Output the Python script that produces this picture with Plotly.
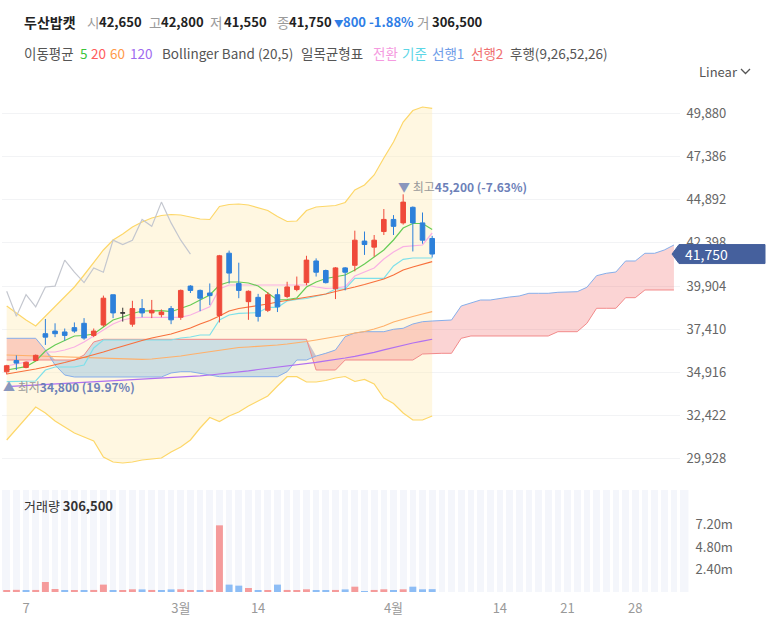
import plotly.graph_objects as go

W, H = 773, 623
FONT = "Noto Sans CJK KR"

# ---------------- data ----------------
opens  = [34950,35600,35200,35600,37150,37300,37250,37500,37750,37050,
          37650,39400,38350,37700,38600,38350,38250,38600,38100,39900,
          39650,39500,38200,41800,40050,39000,39250,38500,39400,39300,
          39700,40100,41350,40800,39750,40950,41100,42500,42150,43050,
          43750,43550,44450,43550,42650]
highs  = [35350,35900,35550,35950,38000,37750,37450,37800,38050,37450,
          39350,39400,38650,39050,39150,39100,38550,38750,39700,39950,
          39700,40050,41700,41950,41250,39650,39450,39550,39750,40150,
          40450,41650,41500,40850,41000,41000,43100,43050,42850,44350,
          44000,45200,44500,44150,42800]
lows   = [34800,35050,35150,35550,36500,36950,36750,37200,36800,36950,
          37550,38050,37850,37550,38100,38050,38100,37700,37950,39500,
          38450,38800,37800,40050,39200,37950,37850,38400,38400,39200,
          39600,39950,40450,40050,39150,39650,40750,41700,41600,42850,
          42850,43450,41900,42350,41550]
closes = [35300,35450,35500,35900,36950,37150,37050,37300,36900,37300,
          39200,38350,38350,38600,38350,38500,38400,37950,39650,39650,
          39200,39350,41650,40650,39650,39600,38150,39400,38700,39850,
          39900,41400,40700,40100,40950,40700,42550,42300,42550,43750,
          43350,44750,43550,42550,41750]
volumes = [210000,230000,200000,220000,1070000,320000,200000,210000,200000,220000,
           790000,200000,210000,290000,280000,220000,200000,280000,290000,210000,
           200000,220000,7140000,790000,680000,430000,200000,210000,790000,220000,
           210000,290000,200000,210000,220000,280000,570000,100000,220000,290000,
           210000,290000,570000,290000,306500]
vol_dir = ["u","u","d","u","u","u","d","u","d","u","u","d","u","u","d","u","d","d","u","u",
           "d","u","u","d","d","u","d","u","d","u","u","u","d","d","u","d","u","d","u","u",
           "d","u","d","d","d"]

ma5   = [35053,35139,35244,35575,36152,36497,36757,37017,37046,37132,
         37536,37941,38114,38316,38460,38489,38478,38420,38605,38808,
         39096,39385,39962,40135,40135,40077,39904,39500,39096,39125,
         39211,39847,40135,40338,40424,40540,40829,41176,41580,41984,
         42562,43255,43515,43515,43169]
ma20  = [34822,34908,34995,35111,35226,35342,35486,35630,35775,35919,
         36092,36266,36439,36612,36757,36901,37017,37132,37305,37479,
         37710,37912,38172,38461,38605,38692,38749,38865,38980,39067,
         39154,39269,39356,39443,39587,39703,39847,39991,40136,40309,
         40540,40829,41002,41175,41308]
ma60  = [35919,35902,35879,35861,35844,35821,35803,35786,35775,35775,
         35746,35717,35688,35671,35671,35688,35746,35786,35861,35948,
         36035,36121,36208,36295,36353,36382,36411,36439,36497,36555,
         36612,36699,36786,36872,36959,37074,37190,37277,37421,37594,
         37825,37998,38143,38287,38420]
ma120 = [34094,34123,34152,34181,34209,34238,34267,34296,34325,34359,
         34388,34417,34446,34475,34504,34533,34562,34591,34625,34666,
         34712,34764,34816,34862,34937,35007,35082,35151,35209,35261,
         35330,35411,35498,35584,35653,35746,35844,35942,36075,36214,
         36353,36480,36613,36723,36827]
bb_upper = [38749,38345,37941,37594,38172,38749,39327,39847,40540,41291,
            41984,42562,42908,43312,43601,43832,43977,44034,44006,43890,
            43775,43746,44496,44612,44641,44583,44439,44266,43919,43630,
            43659,44266,44468,44525,44554,44728,45450,45738,46316,47298,
            48222,49377,50042,50244,50169]
bb_lower = [31010,31645,32280,32916,32569,32107,31760,31414,31183,30952,
            30028,29739,29681,29739,29854,29912,29970,30316,30605,31010,
            31703,32309,32078,32396,32627,32973,33262,33551,34129,34665,
            34665,34360,34360,34446,34591,34677,34389,34504,34244,33436,
            33118,32569,32165,32165,32396]
tenkan = [35284,35399,35515,35688,36092,36092,36208,36381,36670,37017,
          37363,37710,37941,38056,38097,38097,38097,38097,38097,38230,
          38461,38709,39731,39962,39962,39962,39962,39962,39962,39962,
          39962,39962,39847,39772,39789,39864,40482,40713,40944,41464,
          41868,42174,42215,42273,42966]
kijun  = [34377,34377,34377,34417,35053,35226,35226,35226,35342,36324,
          36786,36786,36786,36786,36786,36786,36786,36786,36901,36959,
          37074,37074,37941,38230,38328,38345,38363,38674,38674,39038,
          39136,39183,39327,39443,39731,39731,40349,40349,40349,40349,
          41060,41447,41522,41522,41522]
span_a = [36884,36884,36884,36884,36208,35342,34764,34649,34649,34649,
          34649,34649,34649,34649,34649,34649,34649,34880,34955,34955,
          34880,34764,34666,34666,34666,34666,34666,34666,34666,34955,
          35630,35630,35861,36017,36208,36977,37190,37265,37265,37265,
          37404,37462,37710,37843,
          37883,37912,37941,38750,38923,39096,39096,39194,39269,39327,
          39483,39483,39483,39541,39558,39576,39830,40500,40638,40713,
          41349,41349,41794,41794,41984,42273]
span_b = [35630,35630,35630,35630,35630,35630,35630,35630,35919,36673,
          36826,36826,36826,36826,36826,36826,36826,36826,36826,36826,
          36826,36826,36826,36826,36826,36826,36826,36826,36826,36826,
          36826,36826,35053,35053,35053,35630,35630,35630,35630,35630,
          35630,35630,35630,35977,
          36017,36017,36017,36884,37017,37017,37017,37017,37017,37017,
          37017,37017,37017,37265,37265,37265,37750,38617,38617,38617,
          39229,39229,39674,39674,39674,39674]
lag_shift = 25

x_ticks = [2, 18, 26, 40, 51, 58, 65]
x_labels = ["7", "3월", "14", "4월", "14", "21", "28"]
price_ticks = [29928, 32422, 34916, 37410, 39904, 42398, 44892, 47386, 49880]
vol_ticks = [2400000, 4800000, 7200000]
vol_labels = ["2.40m", "4.80m", "7.20m"]

stock_name = "두산밥캣"
last_close, prev_close = 41750, 42550
hi_val, lo_val = 45200, 34800

# ---------------- helpers ----------------
n = len(closes)
idx = list(range(n))
idx_span = list(range(len(span_a)))

def px(p):
    return p / W

def py(p):
    return 1 - p / H

RED = "#ef4a3a"
BLUE = "#2d80da"

fig = go.Figure()

# Bollinger band
fig.add_trace(go.Scatter(x=idx, y=bb_upper, mode="lines", line=dict(color="#fdd769", width=1.2),
                         hoverinfo="skip"))
fig.add_trace(go.Scatter(x=idx, y=bb_lower, mode="lines", line=dict(color="#fdd769", width=1.2),
                         fill="tonexty", fillcolor="rgba(255,236,180,0.40)", hoverinfo="skip"))

# Ichimoku cloud
top = [max(a, b) for a, b in zip(span_a, span_b)]
fig.add_trace(go.Scatter(x=idx_span, y=span_b, mode="lines", line=dict(width=0), hoverinfo="skip"))
fig.add_trace(go.Scatter(x=idx_span, y=top, mode="lines", line=dict(width=0),
                         fill="tonexty", fillcolor="rgba(240,100,100,0.28)", hoverinfo="skip"))
fig.add_trace(go.Scatter(x=idx_span, y=span_a, mode="lines", line=dict(width=0), hoverinfo="skip"))
fig.add_trace(go.Scatter(x=idx_span, y=top, mode="lines", line=dict(width=0),
                         fill="tonexty", fillcolor="rgba(112,176,230,0.35)", hoverinfo="skip"))
fig.add_trace(go.Scatter(x=idx_span, y=span_b, mode="lines", line=dict(color="#f28a8a", width=1)))
fig.add_trace(go.Scatter(x=idx_span, y=span_a, mode="lines", line=dict(color="#86aeea", width=1)))

# moving averages and ichimoku lines
fig.add_trace(go.Scatter(x=idx, y=ma120, mode="lines", line=dict(color="#b070f0", width=1.2)))
fig.add_trace(go.Scatter(x=idx, y=ma60, mode="lines", line=dict(color="#ffb06a", width=1.2)))
fig.add_trace(go.Scatter(x=idx, y=kijun, mode="lines", line=dict(color="#7ee0ea", width=1.2)))
fig.add_trace(go.Scatter(x=idx, y=tenkan, mode="lines", line=dict(color="#f9b0e4", width=1.2)))
fig.add_trace(go.Scatter(x=idx, y=ma20, mode="lines", line=dict(color="#f8703c", width=1.2)))
fig.add_trace(go.Scatter(x=idx, y=ma5, mode="lines", line=dict(color="#66cc55", width=1.2)))
fig.add_trace(go.Scatter(x=idx[:n - lag_shift], y=closes[lag_shift:], mode="lines",
                         line=dict(color="#c4c7cf", width=1.2)))

# candles (doji separately), on an overlay subplot so they sit above the fills
doji = [i for i in idx if opens[i] == closes[i]]
def mask(arr, keep):
    return [v if keep(i) else None for i, v in enumerate(arr)]
fig.add_trace(go.Candlestick(
    x=idx, open=mask(opens, lambda i: i not in doji), high=mask(highs, lambda i: i not in doji),
    low=mask(lows, lambda i: i not in doji), close=mask(closes, lambda i: i not in doji),
    increasing=dict(line=dict(color=RED, width=1), fillcolor=RED),
    decreasing=dict(line=dict(color=BLUE, width=1), fillcolor=BLUE),
    whiskerwidth=0, hoverinfo="skip", xaxis="x3", yaxis="y3"))
fig.add_trace(go.Candlestick(
    x=idx, open=mask(opens, lambda i: i in doji), high=mask(highs, lambda i: i in doji),
    low=mask(lows, lambda i: i in doji), close=mask(closes, lambda i: i in doji),
    increasing=dict(line=dict(color="#333333", width=1), fillcolor="#333333"),
    decreasing=dict(line=dict(color="#333333", width=1), fillcolor="#333333"),
    whiskerwidth=0, hoverinfo="skip", xaxis="x3", yaxis="y3"))

# volume
vcol = ["#f59b9b" if d == "u" else "#8dbdf5" for d in vol_dir]
fig.add_trace(go.Bar(x=idx, y=volumes, marker=dict(color=vcol, line=dict(width=0)), width=0.72,
                     xaxis="x2", yaxis="y2", hoverinfo="skip"))

# ---------------- layout ----------------
ppw = 9.67
x0pix = 6.7
def xr(pix):
    return (pix - x0pix) / ppw

def yprice(pix):
    return 56424 - 57.76 * pix

xrange_main = [xr(2), xr(680)]
yrange_main = [yprice(480), yprice(80)]

fig.update_layout(
    width=W, height=H, margin=dict(l=0, r=0, t=0, b=0),
    paper_bgcolor="white", plot_bgcolor="white", showlegend=False,
    font=dict(family=FONT, size=13, color="#666"),
    boxgap=0.32,
    xaxis=dict(domain=[px(2), px(680)], range=xrange_main, showgrid=False, zeroline=False,
               showticklabels=False, rangeslider=dict(visible=False), fixedrange=True),
    yaxis=dict(domain=[py(480), py(80)], range=yrange_main, side="right",
               tickvals=price_ticks, ticktext=[f"{v:,}" for v in price_ticks],
               showgrid=True, gridcolor="#f2f3f5", gridwidth=1, zeroline=False,
               ticks="outside", ticklen=3, tickcolor="rgba(0,0,0,0)",
               tickfont=dict(size=13, color="#666")),
    xaxis3=dict(overlaying="x", range=xrange_main, visible=False, anchor="y3",
                rangeslider=dict(visible=False)),
    yaxis3=dict(overlaying="y", range=yrange_main, visible=False, anchor="x3"),
    xaxis2=dict(domain=[px(2), px(689)], range=[xr(2), xr(689)], anchor="y2",
                tickvals=x_ticks, ticktext=x_labels, showgrid=False, zeroline=False,
                ticks="outside", ticklen=4, tickcolor="rgba(0,0,0,0)",
                tickfont=dict(size=13, color="#999"),
                minor=dict(tick0=0.5, dtick=1, showgrid=True, gridcolor="white", gridwidth=2.5)),
    yaxis2=dict(domain=[py(592), py(490)], range=[0, 102 * 107100], side="right", anchor="x2",
                tickvals=vol_ticks, ticktext=vol_labels, showgrid=False, zeroline=False,
                ticks="outside", ticklen=3, tickcolor="rgba(0,0,0,0)",
                tickfont=dict(size=13, color="#666")),
)

fig.add_shape(type="rect", xref="x2", yref="y2 domain", x0=-0.5, x1=70.5, y0=0, y1=1,
              fillcolor="#f4f6fb", line=dict(width=0), layer="below")

# current price tag
tip = px(672); body = px(679); right = px(765)
dy = 9.5 * 57.76
fig.add_shape(type="path", xref="paper", yref="y",
              path=f"M {tip},{last_close} L {body},{last_close + dy} L {right},{last_close + dy} "
                   f"L {right},{last_close - dy} L {body},{last_close - dy} Z",
              fillcolor="#45609d", line=dict(color="#45609d", width=1), layer="above")
fig.add_annotation(xref="paper", yref="y", x=px(683), y=last_close, text=f"{last_close:,}",
                   showarrow=False, xanchor="left", yanchor="middle",
                   font=dict(size=14, color="white", family=FONT))

# high / low markers
chg_hi = (last_close - hi_val) / hi_val * 100
chg_lo = (last_close - lo_val) / lo_val * 100
hi_i = highs.index(hi_val)
lo_i = lows.index(lo_val)
fig.add_annotation(x=hi_i, y=hi_val, xref="x", yref="y", showarrow=False, xanchor="left",
                   yanchor="middle", xshift=-7, yshift=8,
                   text=f"<span style='color:#8a97bd'>▼</span> <span style='color:#999'>최고</span>"
                        f"<b><span style='color:#6c80b8'>{hi_val:,} ({chg_hi:.2f}%)</span></b>",
                   font=dict(size=12, family=FONT))
fig.add_annotation(x=lo_i, y=lo_val, xref="x", yref="y", showarrow=False, xanchor="left",
                   yanchor="middle", xshift=-6, yshift=-12,
                   text=f"<span style='color:#8a97bd'>▲</span> <span style='color:#999'>최저</span>"
                        f"<b><span style='color:#6c80b8'>{lo_val:,} ({chg_lo:.2f}%)</span></b>",
                   font=dict(size=12, family=FONT))

# header, placed piece by piece
def label(xpix, ypix, text, size=13, color="#222"):
    fig.add_annotation(xref="paper", yref="paper", x=px(xpix), y=py(ypix), text=text,
                       showarrow=False, xanchor="left", yanchor="middle",
                       font=dict(size=size, color=color, family=FONT))

chg = last_close - prev_close
chg_pct = chg / prev_close * 100
label(22, 22, f"<b>{stock_name}</b>", 14)
for xg, xv, key, val in [(85, 97, "시", opens[-1]), (147, 159, "고", highs[-1]),
                         (208, 222, "저", lows[-1]), (275, 287, "종", closes[-1])]:
    label(xg, 22, key, 13.5, "#9a9a9a")
    label(xv, 22, f"<b>{val:,}</b>", 13)
label(332, 23, "▼", 9.5, "#2f7ee6")
label(341, 22, f"<b>{abs(chg):,}</b>", 13, "#2f7ee6")
label(367, 22, f"<b>{chg_pct:.2f}%</b>", 13, "#2f7ee6")
label(415, 22, "거", 13.5, "#9a9a9a")
label(430, 22, f"<b>{volumes[-1]:,}</b>", 13)

leg_items = [(22, "이동평균", "#555"), (78, "5", "#3cc43c"), (89, "20", "#ff5c5c"),
             (108, "60", "#ff9a4a"), (128, "120", "#9f6cf0"),
             (160, "Bollinger Band (20,5)", "#555"), (299, "일목균형표", "#555"),
             (371, "전환", "#f59ae0"), (400, "기준", "#5cd6e6"), (430, "선행1", "#6f9de8"),
             (469, "선행2", "#f07070"), (508, "후행(9,26,52,26)", "#555")]
for xl, t, col in leg_items:
    label(xl, 53, t, 13.5, col)

label(697, 71, "Linear", 13, "#555")
fig.add_shape(type="path", xref="paper", yref="paper",
              path=f"M {px(741)},{py(69)} L {px(745.5)},{py(73.5)} L {px(750)},{py(69)}",
              line=dict(color="#555", width=1.3))

label(22, 505, f"거래량 <b>{volumes[-1]:,}</b>", 13, "#333")

fig.write_html("out.html")
